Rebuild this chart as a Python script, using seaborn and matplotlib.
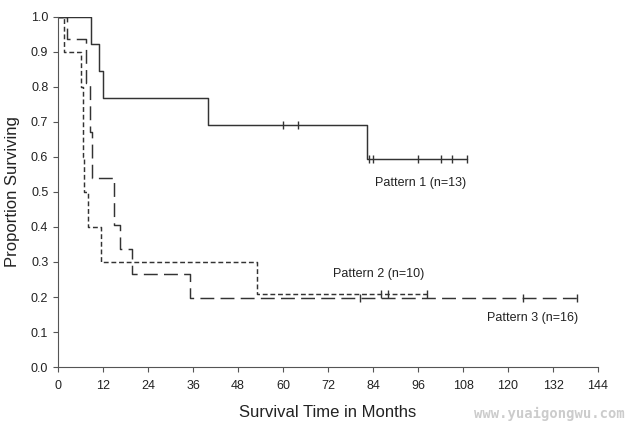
import numpy as np
import pandas as pd
import matplotlib
matplotlib.use("Agg")
import matplotlib.pyplot as plt
import seaborn as sns

# Kaplan-Meier step curves (months, proportion surviving)
p1_time = [0, 8.7, 11.0, 12.0, 40.0, 82.5, 109.0]
p1_surv = [1.0, 0.923, 0.846, 0.769, 0.692, 0.594, 0.594]
p1_cens = [60, 64, 83, 84, 96, 102, 105, 109]

p2_time = [0, 1.5, 6.2, 6.6, 7.0, 8.1, 11.4, 53.0, 98.5]
p2_surv = [1.0, 0.9, 0.8, 0.6, 0.5, 0.4, 0.3, 0.21, 0.21]
p2_cens = [86, 88, 98.5]

p3_time = [0, 2.3, 7.5, 8.5, 9.0, 14.8, 16.5, 19.8, 35.2, 138.5]
p3_surv = [1.0, 0.9375, 0.81, 0.67, 0.54, 0.405, 0.337, 0.265, 0.196, 0.196]
p3_cens = [80.5, 124, 138.5]

labels = ["Pattern 1 (n=13)", "Pattern 2 (n=10)", "Pattern 3 (n=16)"]
label_pos = [(84.5, 0.526), (73.3, 0.266), (114.4, 0.14)]

x_ticks = list(range(0, 145, 12))
y_ticks = [0.0, 0.1, 0.2, 0.3, 0.4, 0.5, 0.6, 0.7, 0.8, 0.9, 1.0]

sns.set_style("ticks")
plt.rcParams["font.family"] = ["Liberation Sans", "DejaVu Sans"]
plt.rcParams["lines.scale_dashes"] = False

fig = plt.figure(figsize=(6.31, 4.3), dpi=100)
ax = fig.add_axes([0.092, 0.1465, 0.8557, 0.814])

line_col = "#333333"
styles = ["-", (0, (3.5, 2.0)), (0, (10, 4.5))]
curves = [(p1_time, p1_surv, p1_cens), (p2_time, p2_surv, p2_cens), (p3_time, p3_surv, p3_cens)]

for (t, s, c), ls in zip(curves, styles):
    df = pd.DataFrame({"time": t, "surv": s})
    sns.lineplot(data=df, x="time", y="surv", drawstyle="steps-post", estimator=None,
                 sort=False, color=line_col, linewidth=1.05, linestyle=ls, ax=ax, legend=False)
    t_arr = np.array(t)
    s_arr = np.array(s)
    idx = np.searchsorted(t_arr, c, side="right") - 1
    sns.scatterplot(x=c, y=s_arr[idx], marker="|", s=34, color=line_col, linewidth=1.0, ax=ax)

for lab, (x, y) in zip(labels, label_pos):
    ax.text(x, y, lab, ha="left", va="center", fontsize=9, color="#222222")

ax.set_xlim(0, 144)
ax.set_ylim(0, 1.0)
ax.set_xticks(x_ticks)
ax.set_yticks(y_ticks)
ax.set_yticklabels([f"{v:.1f}" for v in y_ticks])
ax.tick_params(direction="out", length=3.5, width=0.8, color="#555555", labelsize=9, labelcolor="#222222")
ax.tick_params(axis="x", pad=5.5)
sns.despine(ax=ax)
for sp in ["left", "bottom"]:
    ax.spines[sp].set_color("#555555")
    ax.spines[sp].set_linewidth(0.8)

ax.set_xlabel("Survival Time in Months", fontsize=12, color="#222222", labelpad=10)
ax.set_ylabel("Proportion Surviving", fontsize=12, color="#222222", labelpad=8)

fig.text(0.99, 0.02, "www.yuaigongwu.com", ha="right", va="bottom", fontsize=10,
         family="DejaVu Sans Mono", weight="bold", color="#cccccc")

fig.savefig("out.png", dpi=100)
